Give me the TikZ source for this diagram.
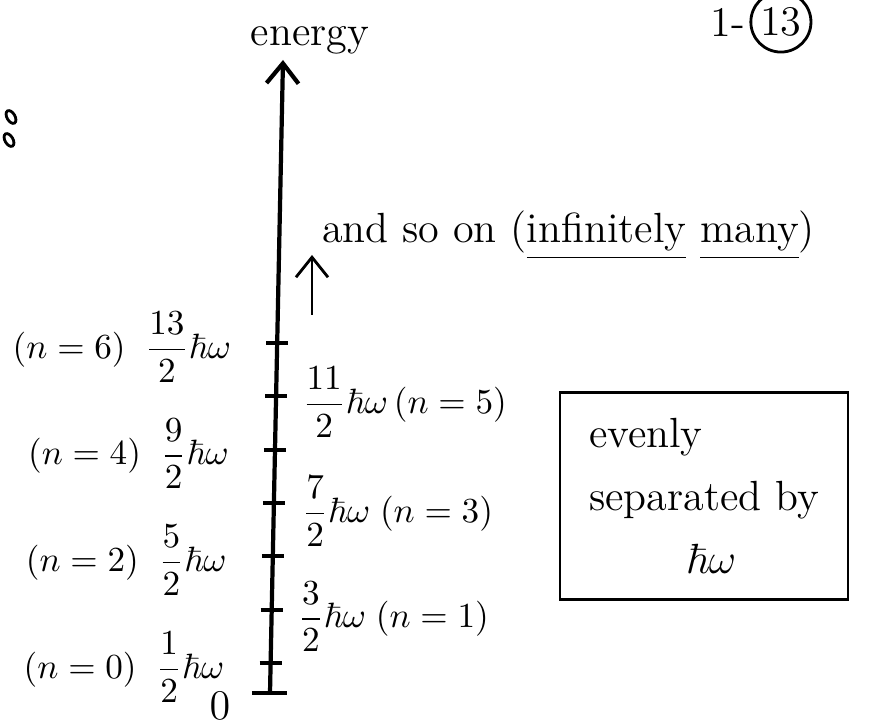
\documentclass[tikz,border=0pt]{standalone}
\usepackage{amsmath}
\usepackage{amssymb}
\usetikzlibrary{positioning}
\usetikzlibrary{arrows.meta}

\begin{document}
\begin{tikzpicture}[
    x=0.01cm, y=-0.01cm,
    axis/.style={-{Straight Barb[length=2mm,width=3.2mm]}, very thick},
    tickmark/.style={very thick},
    level/.style={font=\normalsize, inner sep=1pt},
    note/.style={font=\large, inner sep=1pt},
    frame/.style={rectangle, draw, thick, minimum width=2.88cm, minimum height=2.07cm}
]
\useasboundingbox (0,0) rectangle (872,725);

% Axis
\coordinate (zero) at (270,693);
\coordinate (top) at (283,60);
\draw[axis] (zero) -- (top);
\draw[tickmark] ([xshift=-0.18cm]zero) -- ([xshift=0.17cm]zero);
\node[note] (energy) at (310,40) {energy};
\node[note] (origin) at (220,706) {$0$};

% Levels
\foreach \n in {0,...,6} {
  \pgfmathsetmacro\ty{663-53.33*\n}
  \pgfmathsetmacro\tx{270+(693-\ty)*0.0205}
  \coordinate (t\n) at (\tx,\ty);
  \draw[tickmark] ([xshift=-0.11cm]t\n) -- ([xshift=0.11cm]t\n);
}
\node[level, anchor=east] (l6) at ([xshift=-0.42cm, yshift=-0.04cm]t6) {$(n=6)\;\;\dfrac{13}{2}\hbar\omega$};
\node[level, anchor=east] (l4) at ([xshift=-0.42cm, yshift=-0.04cm]t4) {$(n=4)\;\;\dfrac{9}{2}\hbar\omega$};
\node[level, anchor=east] (l2) at ([xshift=-0.42cm, yshift=-0.04cm]t2) {$(n=2)\;\;\dfrac{5}{2}\hbar\omega$};
\node[level, anchor=east] (l0) at ([xshift=-0.42cm, yshift=-0.04cm]t0) {$(n=0)\;\;\dfrac{1}{2}\hbar\omega$};
\node[level, anchor=west] (l5) at ([xshift=0.22cm, yshift=-0.06cm]t5) {$\dfrac{11}{2}\hbar\omega\,(n=5)$};
\node[level, anchor=west] (l3) at ([xshift=0.24cm, yshift=-0.08cm]t3) {$\dfrac{7}{2}\hbar\omega\;(n=3)$};
\node[level, anchor=west] (l1) at ([xshift=0.22cm, yshift=-0.07cm]t1) {$\dfrac{3}{2}\hbar\omega\;(n=1)$};

% And so on
\coordinate (more0) at (312,315);
\coordinate (more1) at (312,255);
\draw[axis, thick] (more0) -- (more1);
\node[note, anchor=base west] (more) at (318,243) {and so on (\underline{infinitely} \underline{many})};

% Box
\node[frame, note, align=left] (box) at (704,496) {evenly\\[4pt]separated by\\[4pt]\hspace*{2.3em}$\hbar\omega$};

% Page corner
\draw[thick, rotate around={30:(11,117)}] (11,117) ellipse (4 and 7);
\draw[thick, rotate around={30:(9,140)}] (9,140) ellipse (4 and 7);
\node[note] (page) at (728,22) {1-};
\node[note, circle, draw, thick, inner sep=1pt, right=0pt of page] (pagenum) {13};

\end{tikzpicture}
\end{document}
